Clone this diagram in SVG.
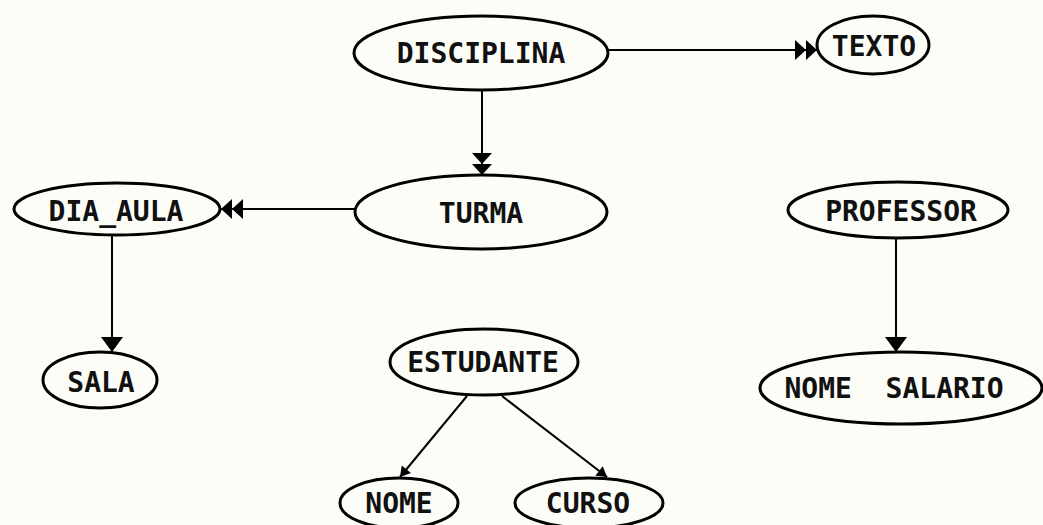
<svg xmlns="http://www.w3.org/2000/svg" width="1043" height="525" viewBox="0 0 1043 525">
  <style>
    .node ellipse { fill: #fdfdf8; stroke: #000; stroke-width: 3; }
    .node text { font-family: "DejaVu Sans Mono", "Liberation Mono", monospace; font-weight: bold; font-size: 28px; fill: #111; text-anchor: middle; white-space: pre; }
    .edge { stroke: #000; stroke-width: 2; fill: none; }
  </style>
  <defs>
    <!-- double arrowhead (multi-valued link) -->
    <marker id="dbl" markerUnits="userSpaceOnUse" viewBox="-1 -11 24 22" markerWidth="24" markerHeight="22" refX="22" refY="0" orient="auto">
      <path d="M0,-10 L11,0 L0,10 Z M11,-10 L22,0 L11,10 Z" fill="#000"/>
    </marker>
    <!-- single arrowhead -->
    <marker id="sgl" markerUnits="userSpaceOnUse" viewBox="-1 -12 17 24" markerWidth="17" markerHeight="24" refX="15" refY="0" orient="auto">
      <path d="M0,-11 L15,0 L0,11 Z" fill="#000"/>
    </marker>
    <!-- small arrowhead -->
    <marker id="small" markerUnits="userSpaceOnUse" viewBox="-1 -7 12 14" markerWidth="12" markerHeight="14" refX="10" refY="0" orient="auto">
      <path d="M0,-6 L10,0 L0,6 Z" fill="#000"/>
    </marker>
  </defs>

  <rect width="1043" height="525" fill="#fdfdf8"/>

  <g id="connectors">
    <line class="edge" x1="608" y1="50" x2="817" y2="50" marker-end="url(#dbl)"/>
    <line class="edge" x1="482" y1="90" x2="482" y2="175" marker-end="url(#dbl)"/>
    <line class="edge" x1="355" y1="209" x2="221" y2="209" marker-end="url(#dbl)"/>
    <line class="edge" x1="112" y1="235" x2="112" y2="352" marker-end="url(#sgl)"/>
    <line class="edge" x1="896" y1="238" x2="896" y2="352" marker-end="url(#sgl)"/>
    <line class="edge" x1="467" y1="396" x2="400" y2="477" marker-end="url(#small)"/>
    <line class="edge" x1="502" y1="396" x2="607" y2="477" marker-end="url(#small)"/>
  </g>

  <g id="disciplina" class="node">
    <ellipse cx="481" cy="53" rx="127" ry="37"/>
    <text x="481" y="63">DISCIPLINA</text>
  </g>
  <g id="texto" class="node">
    <ellipse cx="873" cy="45" rx="56" ry="29"/>
    <text x="874" y="56">TEXTO</text>
  </g>
  <g id="turma" class="node">
    <ellipse cx="481" cy="212" rx="126" ry="37"/>
    <text x="481" y="223">TURMA</text>
  </g>
  <g id="dia_aula" class="node">
    <ellipse cx="117" cy="209" rx="103" ry="26"/>
    <text x="116" y="221">DIA_AULA</text>
  </g>
  <g id="sala" class="node">
    <ellipse cx="100" cy="380" rx="57" ry="28"/>
    <text x="101" y="392">SALA</text>
  </g>
  <g id="professor" class="node">
    <ellipse cx="898" cy="210" rx="110" ry="28"/>
    <text x="901" y="221">PROFESSOR</text>
  </g>
  <g id="nome_salario" class="node">
    <ellipse cx="901" cy="388" rx="141" ry="36"/>
    <text x="894" y="398">NOME  SALARIO</text>
  </g>
  <g id="estudante" class="node">
    <ellipse cx="484" cy="362" rx="94" ry="33"/>
    <text x="483" y="372">ESTUDANTE</text>
  </g>
  <g id="nome" class="node">
    <ellipse cx="399" cy="503" rx="59" ry="25"/>
    <text x="399" y="513">NOME</text>
  </g>
  <g id="curso" class="node">
    <ellipse cx="589" cy="503" rx="74" ry="25"/>
    <text x="588" y="513">CURSO</text>
  </g>
</svg>
